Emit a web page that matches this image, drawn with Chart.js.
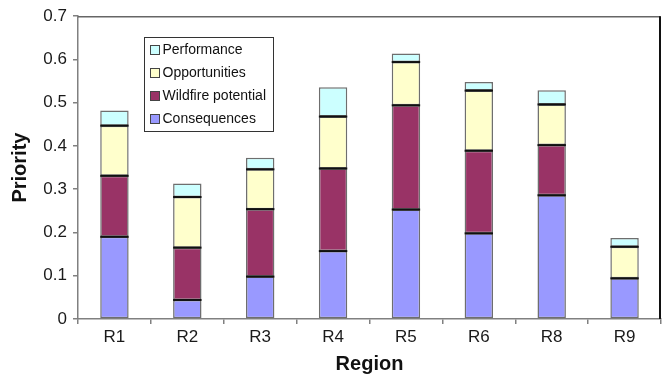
<!DOCTYPE html>
<html>
<head>
<meta charset="utf-8">
<script src="https://cdn.jsdelivr.net/npm/chart.js@4/dist/chart.umd.min.js"></script>
<style>
  html, body { margin: 0; padding: 0; background: #fff; }
  #wrap { width: 668px; height: 376px; }
</style>
</head>
<body>
<div id="wrap"><canvas id="c" width="668" height="376"></canvas></div>
<script>
const regions = ['R1', 'R2', 'R3', 'R4', 'R5', 'R6', 'R8', 'R9'];
const consequences = [0.190, 0.044, 0.098, 0.157, 0.253, 0.198, 0.286, 0.094];
const wildfirePotential = [0.141, 0.121, 0.156, 0.191, 0.241, 0.191, 0.116, 0.000];
const opportunities = [0.116, 0.117, 0.092, 0.120, 0.100, 0.139, 0.094, 0.073];
const performance = [0.035, 0.031, 0.027, 0.068, 0.020, 0.020, 0.033, 0.020];
const yTicks = [0, 0.1, 0.2, 0.3, 0.4, 0.5, 0.6, 0.7];

const FONT = '"Liberation Sans", Arial, sans-serif';

function series(label, data, color) {
  return {
    label, data,
    backgroundColor: color,
    borderColor: '#6e6e6e',
    borderWidth: 1.5,
    borderSkipped: false,
    barPercentage: 0.39,
    categoryPercentage: 1.0
  };
}

// Dark divider lines where one stacked segment meets the next
const dividerPlugin = {
  id: 'dividers',
  afterDatasetsDraw(chart) {
    const ctx = chart.ctx;
    const n = chart.data.labels.length;
    ctx.save();
    ctx.strokeStyle = '#111';
    ctx.lineWidth = 2;
    for (let i = 0; i < n; i++) {
      const segs = [];
      chart.data.datasets.forEach((ds, d) => {
        if (ds.data[i] > 0) segs.push(chart.getDatasetMeta(d).data[i]);
      });
      for (let k = 0; k < segs.length - 1; k++) {
        const bar = segs[k];
        ctx.beginPath();
        ctx.moveTo(bar.x - bar.width / 2, bar.y);
        ctx.lineTo(bar.x + bar.width / 2, bar.y);
        ctx.stroke();
      }
    }
    ctx.restore();
  }
};

// Legend box inside the plot area, plus the top and right plot border
const framePlugin = {
  id: 'frame',
  afterDraw(chart) {
    const ctx = chart.ctx;
    const a = chart.chartArea;
    ctx.save();
    ctx.strokeStyle = '#666';
    ctx.lineWidth = 1.5;
    ctx.beginPath();
    ctx.moveTo(a.left, a.top + 0.5);
    ctx.lineTo(a.right - 0.5, a.top + 0.5);
    ctx.stroke();
    ctx.strokeStyle = '#111';
    ctx.lineWidth = 2;
    ctx.beginPath();
    ctx.moveTo(a.right - 1, a.top);
    ctx.lineTo(a.right - 1, a.bottom);
    ctx.stroke();

    const bx = 144.5, by = 37.5, bw = 129, bh = 94;
    ctx.fillStyle = '#fff';
    ctx.fillRect(bx, by, bw, bh);
    ctx.strokeStyle = '#333';
    ctx.lineWidth = 1;
    ctx.strokeRect(bx, by, bw, bh);
    const items = chart.data.datasets.slice().reverse();
    ctx.font = '14px ' + FONT;
    ctx.textBaseline = 'middle';
    items.forEach((ds, i) => {
      const y = 50 + i * 23;
      ctx.fillStyle = ds.backgroundColor;
      ctx.fillRect(150.5, y - 4.5, 9, 9);
      ctx.strokeStyle = '#444';
      ctx.strokeRect(150.5, y - 4.5, 9, 9);
      ctx.fillStyle = '#111';
      ctx.fillText(ds.label, 162.5, y + 0.5);
    });
    ctx.restore();
  }
};

new Chart(document.getElementById('c'), {
  type: 'bar',
  data: {
    labels: regions,
    datasets: [
      series('Consequences', consequences, '#9999FF'),
      series('Wildfire potential', wildfirePotential, '#993366'),
      series('Opportunities', opportunities, '#FFFFCC'),
      series('Performance', performance, '#CCFFFF')
    ]
  },
  options: {
    responsive: false,
    animation: false,
    devicePixelRatio: 1,
    layout: { padding: { top: 15, right: 7, left: 0, bottom: 0 } },
    plugins: {
      legend: { display: false },
      tooltip: { enabled: false }
    },
    scales: {
      x: {
        stacked: true,
        border: { display: true, color: '#808080', width: 1.5 },
        grid: { display: true, offset: true, drawOnChartArea: false, tickLength: 5, color: '#808080', lineWidth: 1.5 },
        ticks: { color: '#1a1a1a', font: { family: FONT, size: 17 }, padding: 3 },
        title: { display: true, text: 'Region', color: '#111', font: { family: FONT, size: 20, weight: 'bold' }, padding: { top: 0, bottom: 0 } },
        afterFit(s) { s.height = 57; }
      },
      y: {
        stacked: true,
        min: 0, max: 0.7,
        afterBuildTicks(s) { s.ticks = yTicks.map(v => ({ value: v })); },
        border: { display: true, color: '#808080', width: 1.5 },
        grid: { display: true, drawOnChartArea: false, tickLength: 5, color: '#808080', lineWidth: 1.5 },
        ticks: {
          color: '#1a1a1a', font: { family: FONT, size: 17 }, padding: 6,
          callback: v => (v === 0 ? '0' : v.toFixed(1))
        },
        title: { display: true, text: 'Priority', color: '#111', font: { family: FONT, size: 20, weight: 'bold' }, padding: { top: 8, bottom: 0 } },
        afterFit(s) { s.width = 78; }
      }
    }
  },
  plugins: [dividerPlugin, framePlugin]
});
</script>
</body>
</html>
